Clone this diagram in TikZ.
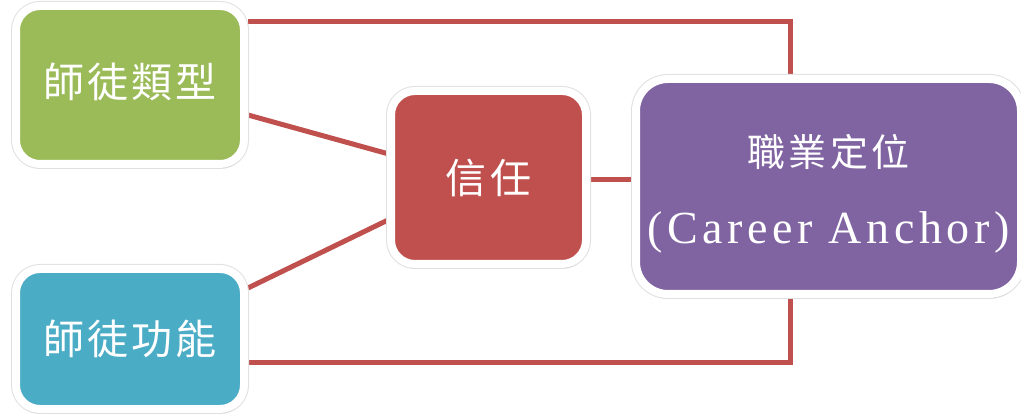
\documentclass[tikz,border=0pt]{standalone}
\usepackage{fontspec}
\newfontfamily\cjk[LetterSpace=8]{Noto Sans CJK TC}
\newfontfamily\latserif[LetterSpace=10]{Liberation Serif}
\usetikzlibrary{shadows,calc}
\definecolor{cgreen}{HTML}{9BBB59}
\definecolor{cblue}{HTML}{4BACC6}
\definecolor{cred}{HTML}{C0504D}
\definecolor{cpurple}{HTML}{8064A2}
\pgfdeclarelayer{bg}
\pgfdeclarelayer{lines}
\pgfsetlayers{bg,lines,main}
\begin{document}
\begin{tikzpicture}[x=1pt,y=-1pt,
  box/.style={rectangle, rounded corners=24pt, draw=white, line width=8pt,
    text=white, inner sep=0pt, align=center,
    font=\cjk\fontsize{41}{46}\selectfont,
    preaction={draw=black!12, line width=10pt},
    drop shadow={shadow xshift=1pt, shadow yshift=-4pt, opacity=0.35, fill=black!60}},
  conn/.style={draw=cred, line width=5pt}]
\begin{pgfonlayer}{bg}
\fill[white] (0,0) rectangle (1021,414);
\end{pgfonlayer}
\useasboundingbox (0,0) rectangle (1021,414);
\node[box, fill=cgreen, minimum width=228pt, minimum height=158pt] (g) at (130,85) {\raisebox{3pt}[\height][\depth]{師徒類型}};
\node[box, fill=cblue, minimum width=228pt, minimum height=140pt] (b) at (130,339) {師徒功能};
\node[box, fill=cred, minimum width=195pt, minimum height=173pt] (r) at (488.5,177.5) {信任};
\node[box, fill=cpurple, rounded corners=32pt, minimum width=385pt, minimum height=215pt] (p) at (828.5,186.5)
  {\raisebox{-9pt}[\height][\depth]{\begin{tabular}{@{}c@{}}\fontsize{38}{44}\selectfont 職業定位\\[31pt]
   {\latserif\fontsize{46}{50}\selectfont (Career Anchor)}\end{tabular}}};
\begin{pgfonlayer}{lines}
\draw[conn] ([yshift=-20pt]g.north east) -| ([xshift=-38pt]p.north);
\draw[conn] ([yshift=-30pt]g.east) -- ([yshift=24pt]r.west);
\draw[conn] ([yshift=51pt]b.east) -- ([yshift=-43pt]r.west);
\draw[conn] ([yshift=-23pt]b.east) -| ([xshift=-38pt]p.south);
\draw[conn] ([yshift=-2.5pt]r.east) -- ([yshift=-2.5pt]r.east -| p.west);
\end{pgfonlayer}
\end{tikzpicture}
\end{document}
